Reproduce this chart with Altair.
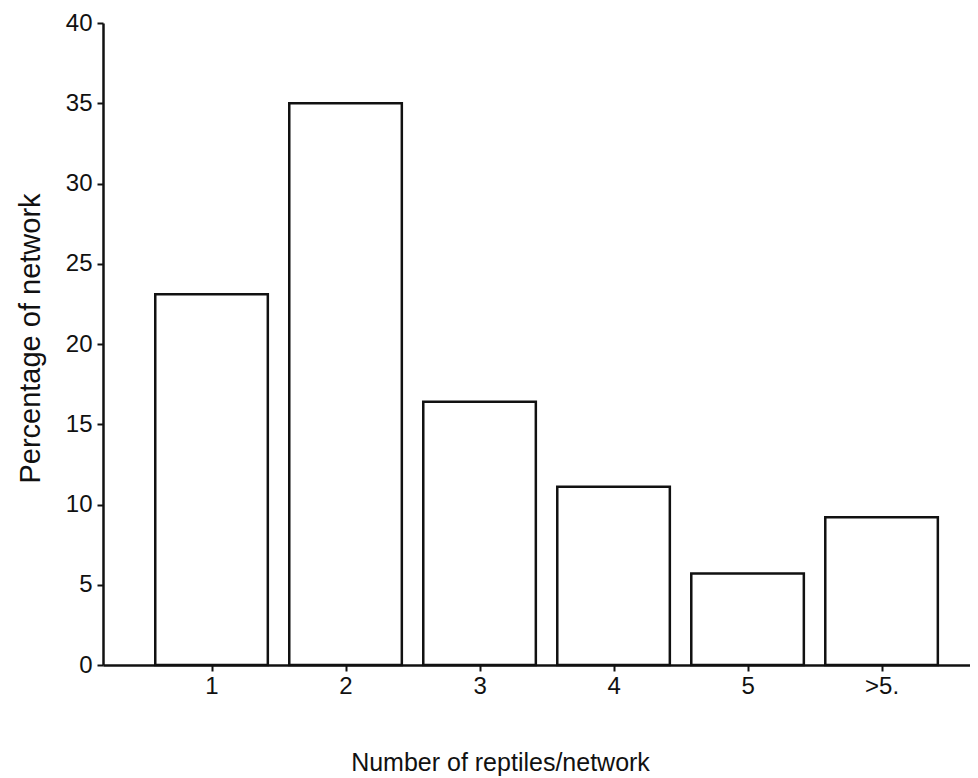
import altair as alt
import pandas as pd

categories = ["1", "2", "3", "4", "5", ">5."]
positions = [1, 2, 3, 4, 5, 6]
percentages = [23.1, 35.0, 16.4, 11.1, 5.7, 9.2]

half = 0.42
df = pd.DataFrame({
    "cat": categories,
    "pos": positions,
    "x0": [p - half for p in positions],
    "x1": [p + half for p in positions],
    "pct": percentages,
})

FONT = "Liberation Sans"
INK = "#111111"
label_expr = "datum.value == 6 ? '>5.' : format(datum.value, 'd')"

bars = alt.Chart(df).mark_bar(
    fill="white", stroke=INK, strokeWidth=2.5
).encode(
    x=alt.X("x0:Q",
            scale=alt.Scale(domain=[0.19, 6.66], nice=False, zero=False),
            axis=alt.Axis(
                values=positions, labelExpr=label_expr,
                title="Number of reptiles/network",
                titleX=397, titleY=97, titleBaseline="middle", titleAlign="center",
                titleFontSize=25, titleFontWeight="normal", titleFont=FONT, titleColor=INK,
                labelFontSize=24, labelFont=FONT, labelColor=INK, labelPadding=3,
                tickSize=6, tickWidth=2, tickColor=INK,
                domainColor=INK, domainWidth=2.5, grid=False,
            )),
    x2="x1:Q",
    y=alt.Y("pct:Q",
            scale=alt.Scale(domain=[0, 40], nice=False),
            axis=alt.Axis(
                values=[0, 5, 10, 15, 20, 25, 30, 35, 40],
                title="Percentage of network",
                titleX=-73, titleY=315, titleAngle=270, titleAlign="center", titleBaseline="middle",
                titleFontSize=29, titleFontWeight="normal", titleFont=FONT, titleColor=INK,
                labelFontSize=24, labelFont=FONT, labelColor=INK, labelPadding=5,
                tickSize=6, tickWidth=2, tickColor=INK,
                domainColor=INK, domainWidth=2.5, grid=False,
            )),
    y2=alt.datum(0),
).properties(
    width=867, height=642,
    autosize=alt.AutoSizeParams(type="none"),
    padding={"left": 95, "top": 15, "right": 0, "bottom": 112},
).configure(background="white").configure_view(stroke=None)

chart = bars
chart.save("out.html", embed_options={"renderer": "svg", "actions": False})
